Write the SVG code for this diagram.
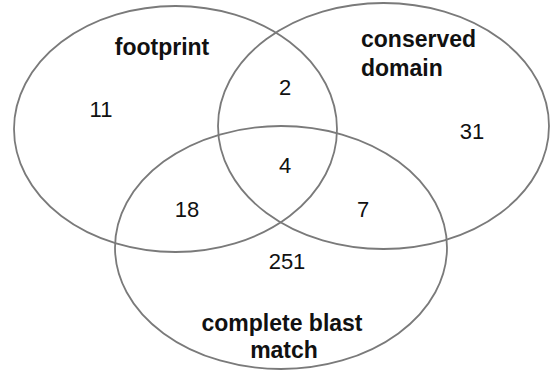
<svg xmlns="http://www.w3.org/2000/svg" width="551" height="371" viewBox="0 0 551 371">
<style>
.set{fill:none;stroke:#7a7a7a;stroke-width:1.8}
.lbl{font-family:"Liberation Sans",Arial,sans-serif;font-weight:bold;font-size:23px;fill:#111}
.num{font-family:"Liberation Sans",Arial,sans-serif;font-size:22px;fill:#111;text-anchor:middle}
</style>
<rect width="551" height="371" fill="#fff"/>
<g id="footprint">
<ellipse class="set" cx="175.5" cy="129" rx="161.5" ry="123"/>
<text class="lbl" x="162" y="55" text-anchor="middle">footprint</text>
<text class="num" x="101" y="117">11</text>
</g>
<g id="conserved-domain">
<ellipse class="set" cx="383.5" cy="126" rx="165.5" ry="123"/>
<text class="lbl" x="361" y="47">conserved</text>
<text class="lbl" x="361" y="76">domain</text>
<text class="num" x="472" y="139">31</text>
</g>
<g id="complete-blast-match">
<ellipse class="set" cx="281" cy="247.5" rx="166" ry="121.5"/>
<text class="lbl" x="282" y="331" text-anchor="middle">complete blast</text>
<text class="lbl" x="284" y="358" text-anchor="middle">match</text>
<text class="num" x="287" y="269">251</text>
</g>
<g id="overlaps">
<text class="num" x="285" y="95">2</text>
<text class="num" x="285" y="173">4</text>
<text class="num" x="187" y="217">18</text>
<text class="num" x="363" y="217">7</text>
</g>
<g id="connectors"/>
</svg>
